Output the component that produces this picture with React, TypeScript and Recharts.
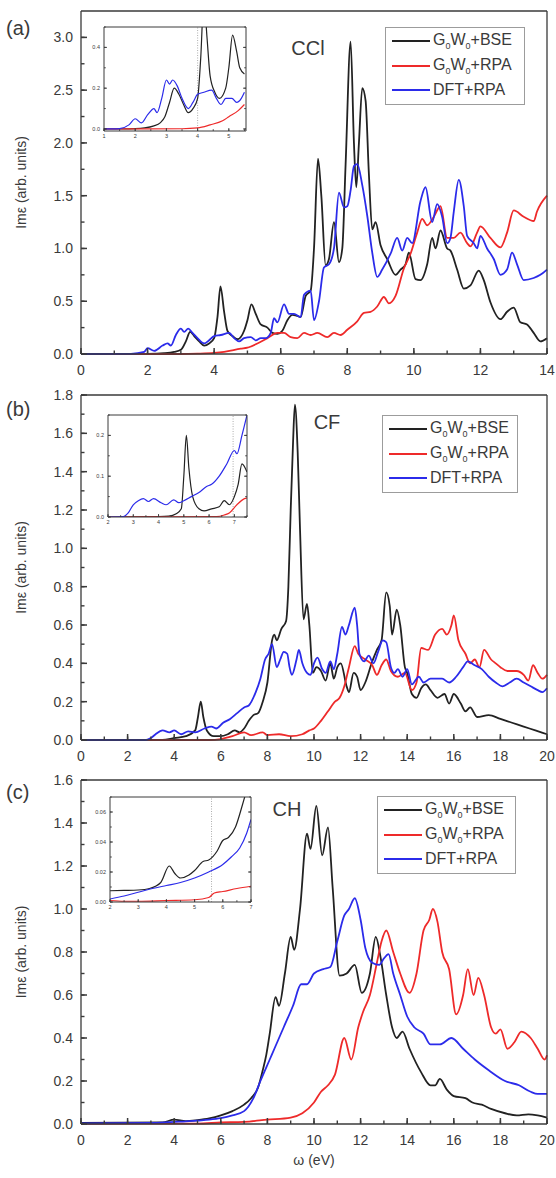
import React from 'react';
import { LineChart, Line, XAxis, YAxis, Legend, ReferenceLine } from 'recharts';

type Pt = [number, number];

const SERIES_NAMES = ['G0W0+BSE', 'G0W0+RPA', 'DFT+RPA'];
const SERIES_COLORS = ['#222222', '#ee2a2a', '#2b2bea'];

// ---------- Panel (a) CCl ----------
const cclBse: Pt[] = [[0,0],[1,0],[2,0.002],[2.5,0.008],[2.8,0.02],[3.0,0.04],[3.15,0.12],[3.28,0.21],[3.4,0.17],[3.55,0.12],[3.7,0.08],[3.85,0.1],[4.0,0.15],[4.1,0.35],[4.19,0.64],[4.3,0.4],[4.4,0.22],[4.55,0.17],[4.7,0.14],[4.9,0.22],[5.0,0.32],[5.12,0.47],[5.25,0.38],[5.4,0.28],[5.6,0.25],[5.75,0.2],[5.9,0.19],[6.05,0.22],[6.2,0.32],[6.35,0.37],[6.5,0.36],[6.6,0.35],[6.75,0.55],[6.9,0.6],[7.0,1.0],[7.12,1.85],[7.22,1.5],[7.35,0.84],[7.45,0.9],[7.6,1.25],[7.75,0.87],[7.85,1.0],[7.95,1.8],[8.1,2.96],[8.2,2.0],[8.27,1.58],[8.35,2.0],[8.45,2.52],[8.55,2.4],[8.65,1.7],[8.75,1.18],[8.85,1.25],[9.0,1.03],[9.2,0.9],[9.45,0.75],[9.6,0.8],[9.75,0.85],[9.85,0.96],[10.05,0.71],[10.2,0.7],[10.4,0.85],[10.55,1.1],[10.65,1.0],[10.8,1.17],[11.0,1.0],[11.1,0.98],[11.3,0.8],[11.5,0.62],[11.7,0.65],[11.95,0.79],[12.1,0.7],[12.3,0.49],[12.6,0.33],[12.8,0.4],[13.0,0.44],[13.2,0.3],[13.4,0.28],[13.6,0.2],[13.8,0.12],[14,0.15]];
const cclRpa: Pt[] = [[0,0],[3,0],[3.5,0.003],[4.0,0.01],[4.3,0.02],[4.8,0.05],[5.0,0.06],[5.3,0.1],[5.6,0.15],[5.9,0.2],[6.1,0.2],[6.3,0.16],[6.5,0.15],[6.7,0.2],[6.9,0.18],[7.1,0.2],[7.4,0.16],[7.6,0.2],[7.8,0.18],[8.0,0.23],[8.3,0.31],[8.5,0.39],[8.7,0.4],[8.9,0.45],[9.1,0.54],[9.25,0.48],[9.45,0.55],[9.7,0.81],[9.9,0.95],[10.1,1.15],[10.25,1.28],[10.4,1.22],[10.6,1.3],[10.8,1.4],[11.0,1.1],[11.2,1.1],[11.4,1.15],[11.6,1.05],[11.7,1.02],[11.9,1.15],[12.0,1.21],[12.3,1.1],[12.6,1.01],[12.8,1.15],[13.0,1.36],[13.3,1.3],[13.6,1.26],[13.7,1.35],[14,1.5]];
const cclDft: Pt[] = [[0,0],[1.5,0.002],[1.9,0.02],[2.0,0.055],[2.2,0.03],[2.45,0.08],[2.6,0.1],[2.7,0.08],[2.85,0.18],[3.0,0.24],[3.1,0.21],[3.22,0.24],[3.35,0.2],[3.5,0.15],[3.7,0.1],[3.85,0.13],[4.0,0.17],[4.2,0.18],[4.45,0.2],[4.6,0.15],[4.75,0.12],[4.9,0.15],[5.1,0.16],[5.25,0.13],[5.4,0.15],[5.55,0.15],[5.7,0.2],[5.8,0.34],[5.9,0.3],[6.1,0.47],[6.25,0.38],[6.4,0.38],[6.6,0.35],[6.7,0.56],[6.9,0.6],[7.0,0.32],[7.15,0.5],[7.3,0.82],[7.45,0.85],[7.6,1.0],[7.75,1.53],[7.9,1.39],[8.0,1.4],[8.1,1.55],[8.2,1.78],[8.3,1.8],[8.45,1.6],[8.6,1.31],[8.75,0.96],[8.9,0.73],[9.05,0.8],[9.3,0.95],[9.5,1.1],[9.65,0.98],[9.8,1.1],[9.95,1.05],[10.2,1.45],[10.35,1.58],[10.55,1.25],[10.7,1.42],[10.85,1.3],[11.0,1.05],[11.1,1.1],[11.2,1.35],[11.35,1.65],[11.5,1.4],[11.6,1.12],[11.8,1.05],[11.9,1.0],[12.0,1.12],[12.2,1.0],[12.4,0.9],[12.6,0.75],[12.8,0.8],[12.95,0.96],[13.1,0.85],[13.3,0.7],[13.6,0.72],[13.8,0.75],[14,0.8]];

const cclInsetBse: Pt[] = [[1,0],[2,0.002],[2.3,0.005],[2.6,0.015],[2.8,0.03],[2.95,0.06],[3.1,0.13],[3.25,0.2],[3.4,0.17],[3.55,0.12],[3.7,0.08],[3.85,0.1],[4.0,0.15],[4.1,0.35],[4.2,0.64],[4.3,0.45],[4.4,0.26],[4.55,0.18],[4.7,0.15],[4.9,0.2],[5.0,0.3],[5.12,0.46],[5.25,0.38],[5.35,0.3],[5.5,0.27]];
const cclInsetRpa: Pt[] = [[1,0],[3.5,0.001],[4.0,0.005],[4.4,0.02],[4.8,0.04],[5.0,0.06],[5.3,0.09],[5.5,0.12]];
const cclInsetDft: Pt[] = [[1,0],[1.5,0.002],[1.8,0.02],[2.0,0.05],[2.2,0.03],[2.4,0.07],[2.6,0.1],[2.7,0.08],[2.85,0.15],[3.0,0.24],[3.1,0.22],[3.2,0.24],[3.35,0.21],[3.5,0.15],[3.7,0.1],[3.85,0.13],[4.0,0.17],[4.2,0.18],[4.45,0.19],[4.6,0.15],[4.75,0.12],[4.9,0.15],[5.1,0.15],[5.25,0.13],[5.4,0.15],[5.5,0.18]];

// ---------- Panel (b) CF ----------
const cfBse: Pt[] = [[0,0],[3.5,0],[4.0,0.01],[4.5,0.02],[4.9,0.05],[5.02,0.12],[5.14,0.2],[5.25,0.12],[5.4,0.05],[5.7,0.02],[6.0,0.02],[6.3,0.03],[6.6,0.05],[6.8,0.04],[7.0,0.06],[7.2,0.1],[7.4,0.13],[7.6,0.14],[7.8,0.2],[8.0,0.3],[8.2,0.52],[8.3,0.55],[8.4,0.52],[8.6,0.58],[8.8,0.62],[8.9,0.8],[9.0,1.2],[9.1,1.55],[9.18,1.75],[9.3,1.5],[9.4,1.1],[9.55,0.63],[9.7,0.71],[9.8,0.6],[9.95,0.35],[10.1,0.38],[10.3,0.36],[10.5,0.31],[10.7,0.4],[10.85,0.32],[11.0,0.38],[11.15,0.4],[11.4,0.28],[11.5,0.25],[11.7,0.35],[11.85,0.33],[12.0,0.26],[12.2,0.3],[12.5,0.41],[12.7,0.47],[12.9,0.52],[13.1,0.77],[13.25,0.7],[13.35,0.55],[13.55,0.68],[13.7,0.6],[13.9,0.38],[14.0,0.35],[14.2,0.24],[14.4,0.22],[14.6,0.27],[14.8,0.29],[15.0,0.26],[15.3,0.22],[15.6,0.24],[15.8,0.19],[16.0,0.24],[16.3,0.19],[16.5,0.15],[16.7,0.17],[17.0,0.12],[17.5,0.13],[18.0,0.11],[18.5,0.09],[19.0,0.07],[19.5,0.05],[20,0.03]];
const cfRpa: Pt[] = [[0,0],[5.5,0],[6.0,0.005],[6.5,0.02],[7.0,0.04],[7.3,0.025],[7.8,0.04],[8.0,0.025],[8.5,0.03],[9.0,0.02],[9.5,0.03],[9.8,0.05],[10.0,0.06],[10.3,0.1],[10.6,0.15],[10.9,0.2],[11.1,0.22],[11.3,0.28],[11.5,0.38],[11.75,0.49],[11.9,0.45],[12.2,0.42],[12.5,0.39],[12.7,0.34],[12.9,0.39],[13.1,0.42],[13.3,0.36],[13.6,0.33],[13.9,0.35],[14.2,0.26],[14.4,0.3],[14.6,0.48],[14.9,0.47],[15.2,0.55],[15.5,0.58],[15.7,0.55],[15.9,0.6],[16.0,0.65],[16.2,0.52],[16.5,0.45],[16.7,0.4],[16.9,0.42],[17.1,0.38],[17.3,0.47],[17.6,0.42],[17.8,0.4],[18.0,0.38],[18.3,0.36],[18.7,0.36],[19.0,0.34],[19.2,0.31],[19.4,0.39],[19.6,0.35],[19.8,0.32],[20,0.34]];
const cfDft: Pt[] = [[0,0],[2.8,0],[3.0,0.01],[3.2,0.03],[3.5,0.05],[3.8,0.04],[4.0,0.05],[4.3,0.03],[4.6,0.045],[4.9,0.04],[5.3,0.06],[5.6,0.07],[5.8,0.06],[6.1,0.09],[6.4,0.11],[6.7,0.14],[7.0,0.17],[7.2,0.18],[7.5,0.25],[7.7,0.32],[7.9,0.42],[8.05,0.45],[8.2,0.5],[8.4,0.38],[8.55,0.42],[8.7,0.46],[8.85,0.45],[8.95,0.38],[9.05,0.34],[9.25,0.42],[9.35,0.47],[9.5,0.4],[9.7,0.35],[9.85,0.34],[10.0,0.4],[10.15,0.43],[10.35,0.37],[10.5,0.35],[10.7,0.41],[10.85,0.37],[11.0,0.45],[11.2,0.59],[11.35,0.55],[11.5,0.6],[11.75,0.69],[11.85,0.6],[11.95,0.45],[12.15,0.41],[12.35,0.44],[12.55,0.4],[12.75,0.46],[12.95,0.52],[13.1,0.51],[13.3,0.38],[13.45,0.35],[13.6,0.37],[13.8,0.33],[14.0,0.37],[14.2,0.29],[14.5,0.33],[14.7,0.3],[15.0,0.32],[15.5,0.32],[15.8,0.3],[16.1,0.33],[16.4,0.38],[16.6,0.41],[16.9,0.39],[17.2,0.37],[17.5,0.33],[17.8,0.3],[18.1,0.28],[18.4,0.3],[18.7,0.32],[19.0,0.3],[19.3,0.28],[19.6,0.26],[19.8,0.25],[20,0.27]];

const cfInsetBse: Pt[] = [[2,0],[4.0,0.001],[4.4,0.002],[4.7,0.008],[4.9,0.02],[5.0,0.1],[5.1,0.2],[5.2,0.12],[5.35,0.05],[5.6,0.02],[5.8,0.015],[6.1,0.02],[6.4,0.025],[6.6,0.04],[6.8,0.03],[7.0,0.05],[7.15,0.08],[7.3,0.13],[7.5,0.11]];
const cfInsetRpa: Pt[] = [[2,0],[6.3,0.001],[6.6,0.005],[6.8,0.01],[7.1,0.03],[7.4,0.045],[7.5,0.047]];
const cfInsetDft: Pt[] = [[2,0],[2.6,0.001],[2.8,0.01],[3.0,0.03],[3.2,0.04],[3.4,0.045],[3.6,0.038],[3.8,0.045],[4.1,0.035],[4.3,0.03],[4.6,0.042],[4.8,0.035],[5.0,0.04],[5.3,0.05],[5.6,0.06],[5.9,0.075],[6.1,0.08],[6.4,0.1],[6.7,0.13],[7.0,0.163],[7.1,0.155],[7.3,0.2],[7.5,0.25]];

// ---------- Panel (c) CH ----------
const chBse: Pt[] = [[0,0.005],[3.5,0.008],[4.0,0.02],[4.5,0.013],[5.0,0.018],[5.5,0.026],[6.0,0.04],[6.5,0.06],[7.0,0.09],[7.3,0.12],[7.6,0.17],[7.8,0.25],[7.95,0.32],[8.1,0.42],[8.35,0.59],[8.5,0.55],[8.75,0.7],[9.0,0.87],[9.15,0.81],[9.4,1.0],[9.7,1.35],[9.85,1.28],[10.1,1.48],[10.35,1.25],[10.6,1.38],[10.8,1.1],[11.1,0.69],[11.4,0.7],[11.75,0.74],[12.05,0.61],[12.4,0.7],[12.65,0.87],[12.85,0.78],[13.1,0.6],[13.35,0.45],[13.55,0.4],[13.8,0.43],[14.1,0.35],[14.6,0.24],[15.0,0.18],[15.2,0.18],[15.4,0.21],[15.7,0.16],[16.0,0.13],[16.5,0.12],[16.8,0.1],[17.2,0.09],[17.6,0.07],[18.2,0.05],[18.7,0.04],[19.2,0.045],[19.6,0.04],[20,0.03]];
const chRpa: Pt[] = [[0,0.001],[5,0.002],[6,0.007],[7,0.01],[8,0.02],[9,0.03],[9.5,0.05],[10.0,0.1],[10.3,0.15],[10.6,0.18],[10.9,0.23],[11.3,0.4],[11.6,0.3],[11.9,0.45],[12.1,0.52],[12.4,0.6],[12.7,0.75],[12.9,0.85],[13.1,0.9],[13.4,0.8],[13.7,0.7],[14.1,0.61],[14.4,0.7],[14.7,0.9],[14.95,0.95],[15.1,1.0],[15.3,0.94],[15.5,0.8],[15.8,0.72],[16.1,0.51],[16.4,0.6],[16.6,0.72],[16.85,0.6],[17.05,0.68],[17.3,0.6],[17.6,0.45],[17.8,0.42],[18.0,0.44],[18.3,0.35],[18.6,0.38],[18.9,0.43],[19.3,0.4],[19.6,0.35],[19.9,0.3],[20,0.32]];
const chDft: Pt[] = [[0,0.003],[3,0.005],[4,0.01],[4.5,0.012],[5.0,0.016],[5.5,0.02],[6.0,0.027],[6.5,0.04],[7.0,0.06],[7.4,0.12],[7.7,0.2],[8.1,0.3],[8.3,0.35],[8.7,0.45],[9.1,0.55],[9.45,0.65],[9.7,0.65],[10.0,0.7],[10.4,0.72],[10.7,0.73],[11.0,0.85],[11.3,0.97],[11.5,1.0],[11.75,1.05],[12.0,0.95],[12.2,0.82],[12.5,0.75],[12.8,0.74],[13.0,0.77],[13.2,0.79],[13.4,0.7],[13.7,0.6],[14.0,0.5],[14.3,0.45],[14.7,0.42],[15.0,0.37],[15.4,0.37],[15.9,0.4],[16.4,0.35],[16.9,0.3],[17.5,0.25],[18.2,0.2],[18.8,0.18],[19.3,0.15],[19.6,0.14],[20,0.14]];

const chInsetBse: Pt[] = [[2,0.0075],[2.5,0.0077],[3.0,0.008],[3.4,0.009],[3.8,0.013],[4.1,0.024],[4.3,0.019],[4.5,0.016],[4.8,0.018],[5.0,0.021],[5.3,0.027],[5.5,0.028],[5.8,0.034],[6.0,0.041],[6.2,0.043],[6.45,0.05],[6.7,0.065],[6.85,0.075]];
const chInsetRpa: Pt[] = [[2,0.001],[2.5,0.0005],[3.0,0.0005],[4.0,0.001],[5.0,0.0015],[5.5,0.003],[5.7,0.006],[6.0,0.007],[6.5,0.009],[7.0,0.0105]];
const chInsetDft: Pt[] = [[2,0.002],[2.5,0.004],[3.0,0.0065],[3.5,0.009],[4.0,0.011],[4.5,0.013],[5.0,0.016],[5.5,0.02],[6.0,0.025],[6.3,0.03],[6.6,0.036],[6.85,0.046],[7.0,0.055]];

// ---------- Ticks ----------
const xTicks14 = [0,1,2,3,4,5,6,7,8,9,10,11,12,13,14];
const xLabels14 = [0,2,4,6,8,10,12,14];
const xTicks20 = [0,1,2,3,4,5,6,7,8,9,10,11,12,13,14,15,16,17,18,19,20];
const xLabels20 = [0,2,4,6,8,10,12,14,16,18,20];
const yTicksA = [0,0.25,0.5,0.75,1.0,1.25,1.5,1.75,2.0,2.25,2.5,2.75,3.0];
const yLabelsA = [0,0.5,1.0,1.5,2.0,2.5,3.0];
const yTicksB = [0,0.1,0.2,0.3,0.4,0.5,0.6,0.7,0.8,0.9,1.0,1.1,1.2,1.3,1.4,1.5,1.6,1.7,1.8];
const yLabelsB = [0,0.2,0.4,0.6,0.8,1.0,1.2,1.4,1.6,1.8];
const yTicksC = [0,0.1,0.2,0.3,0.4,0.5,0.6,0.7,0.8,0.9,1.0,1.1,1.2,1.3,1.4,1.5,1.6];
const yLabelsC = [0,0.2,0.4,0.6,0.8,1.0,1.2,1.4,1.6];

const insetXTicksA = [1,1.5,2,2.5,3,3.5,4,4.5,5,5.5];
const insetXLabelsA = [1,2,3,4,5];
const insetYTicksA = [0,0.1,0.2,0.3,0.4,0.5];
const insetYLabelsA = [0,0.2,0.4];
const insetXTicksB = [2,2.5,3,3.5,4,4.5,5,5.5,6,6.5,7,7.5];
const insetXLabelsB = [2,3,4,5,6,7];
const insetYTicksB = [0,0.05,0.1,0.15,0.2,0.25];
const insetYLabelsB = [0,0.1,0.2];
const insetXTicksC = [2,2.5,3,3.5,4,4.5,5,5.5,6,6.5,7];
const insetXLabelsC = [2,3,4,5,6,7];
const insetYTicksC = [0,0.01,0.02,0.03,0.04,0.05,0.06,0.07];
const insetYLabelsC = [0,0.02,0.04,0.06];

const FONT = '"Liberation Sans", Arial, Helvetica, sans-serif';
const AXIS_COLOR = '#3a3a3a';
const TEXT_COLOR = '#3a3a3a';

const rows = (p: Pt[]) => p.map(([x, y]) => ({ x, y }));

type Side = 'bottom' | 'top' | 'left' | 'right';

// Custom tick: label for major values + a longer inward line for majors.
// `gap` = distance from the axis line to the label anchor.
function makeTick(side: Side, labels: number[], fmt: (v: number) => string, opts: { fontSize: number; major: number; gap: number; show: boolean; sw: number }) {
  return (props: any) => {
    const { x, y, payload } = props;
    const v = payload.value as number;
    const isMajor = labels.some((l) => Math.abs(l - v) < 1e-9);
    let line: React.ReactNode = null;
    let label: React.ReactNode = null;
    if (side === 'bottom') {
      const by = y - opts.gap;
      if (isMajor) line = <path d={`M${x},${by}V${by - opts.major}`} stroke={AXIS_COLOR} strokeWidth={opts.sw} fill="none" />;
      if (opts.show && isMajor) label = <text x={x} y={y} dy="0.71em" textAnchor="middle" fontSize={opts.fontSize} fill={TEXT_COLOR} fontFamily={FONT}>{fmt(v)}</text>;
    } else if (side === 'top') {
      const by = y + opts.gap;
      if (isMajor) line = <path d={`M${x},${by}V${by + opts.major}`} stroke={AXIS_COLOR} strokeWidth={opts.sw} fill="none" />;
    } else if (side === 'left') {
      const bx = x + opts.gap;
      if (isMajor) line = <path d={`M${bx},${y}H${bx + opts.major}`} stroke={AXIS_COLOR} strokeWidth={opts.sw} fill="none" />;
      if (opts.show && isMajor) label = <text x={x} y={y} dy="0.35em" textAnchor="end" fontSize={opts.fontSize} fill={TEXT_COLOR} fontFamily={FONT}>{fmt(v)}</text>;
    } else {
      const bx = x - opts.gap;
      if (isMajor) line = <path d={`M${bx},${y}H${bx - opts.major}`} stroke={AXIS_COLOR} strokeWidth={opts.sw} fill="none" />;
    }
    return <g>{line}{label}</g>;
  };
}

const subStyle: React.CSSProperties = { fontSize: 9, position: 'relative', top: 4, verticalAlign: 'baseline' };
const formatName = (s: string) =>
  s.startsWith('G0W0') ? (<>G<span style={subStyle}>0</span>W<span style={subStyle}>0</span>{s.slice(4)}</>) : s;

const legendContent = (width: number) => (props: any) => {
  const src: any[] = props.payload && props.payload.length ? props.payload : SERIES_NAMES.map((n, i) => ({ value: n, color: SERIES_COLORS[i] }));
  const payload = [...src].sort((a, b) => SERIES_NAMES.indexOf(String(a.value)) - SERIES_NAMES.indexOf(String(b.value)));
  return (
    <div style={{ boxSizing: 'border-box', width, border: '1px solid #9c9c9c', background: '#fff', padding: '1px 0', fontFamily: FONT }}>
      {payload.map((e: any, i: number) => (
        <div key={i} style={{ height: 24.5, display: 'flex', alignItems: 'center' }}>
          <svg width={47} height={4} style={{ flex: 'none' }}>
            <line x1={6} x2={44} y1={2} y2={2} stroke={e.color} strokeWidth={1.8} />
          </svg>
          <span style={{ fontSize: 16, color: TEXT_COLOR, whiteSpace: 'nowrap', lineHeight: '16px' }}>{formatName(String(e.value))}</span>
        </div>
      ))}
    </div>
  );
};

interface InsetProps {
  rect: { l: number; t: number; r: number; b: number };
  xDomain: [number, number];
  xTicks: number[];
  xLabels: number[];
  yDomain: [number, number];
  yTicks: number[];
  yLabels: number[];
  yDigits: number;
  series: Pt[][];
  marker: number;
}

function Inset(p: InsetProps) {
  const padL = 22, padT = 5, padR = 8, padB = 16;
  const w = p.rect.r - p.rect.l + padL + padR;
  const h = p.rect.b - p.rect.t + padT + padB;
  const o = { fontSize: 5.5, major: 3, sw: 0.9, show: true };
  const ts = -1.8;
  const tl = { stroke: AXIS_COLOR, strokeWidth: 0.9 };
  const al = { stroke: AXIS_COLOR, strokeWidth: 1 };
  return (
    <div style={{ position: 'absolute', left: p.rect.l - padL, top: p.rect.t - padT, width: w, height: h }}>
      <LineChart width={w} height={h} margin={{ top: padT - 1, right: padR - 1, bottom: padB - 12, left: 0 }}>
        <XAxis xAxisId="x" type="number" dataKey="x" domain={p.xDomain} ticks={p.xTicks} interval={0} height={12} tickSize={ts} tickMargin={3 - ts} tickLine={tl} axisLine={al} stroke={AXIS_COLOR} tick={makeTick('bottom', p.xLabels, (v) => String(v), { ...o, gap: 3 })} allowDataOverflow />
        <XAxis xAxisId="xt" orientation="top" type="number" domain={p.xDomain} ticks={p.xTicks} interval={0} height={1} tickSize={ts} tickMargin={-ts} tickLine={tl} axisLine={al} stroke={AXIS_COLOR} tick={makeTick('top', p.xLabels, String, { ...o, gap: 0, show: false })} allowDataOverflow />
        <YAxis yAxisId="y" type="number" domain={p.yDomain} ticks={p.yTicks} interval={0} width={22} tickSize={ts} tickMargin={4 - ts} tickLine={tl} axisLine={al} stroke={AXIS_COLOR} tick={makeTick('left', p.yLabels, (v) => v.toFixed(p.yDigits), { ...o, gap: 4 })} allowDataOverflow />
        <YAxis yAxisId="yr" orientation="right" type="number" domain={p.yDomain} ticks={p.yTicks} interval={0} width={1} tickSize={ts} tickMargin={-ts} tickLine={tl} axisLine={al} stroke={AXIS_COLOR} tick={makeTick('right', p.yLabels, String, { ...o, gap: 0, show: false })} allowDataOverflow />
        <ReferenceLine xAxisId="x" yAxisId="y" x={p.marker} stroke="#8a8a8a" strokeWidth={0.7} strokeDasharray="1 1.5" />
        {p.series.map((s, i) => (
          <Line key={i} xAxisId="x" yAxisId="y" data={rows(s)} dataKey="y" type="monotone" stroke={SERIES_COLORS[i]} strokeWidth={1.2} dot={false} activeDot={false} isAnimationActive={false} />
        ))}
      </LineChart>
    </div>
  );
}

interface PanelProps {
  top: number;
  height: number;
  plotTop: number;
  plotBottom: number;
  xDomain: [number, number];
  xTicks: number[];
  xLabels: number[];
  yDomain: [number, number];
  yTicks: number[];
  yLabels: number[];
  series: Pt[][];
  tag: string;
  tagY: number;
  title: string;
  titleX: number;
  titleY: number;
  legend: { left: number; top: number; width: number };
  inset: InsetProps;
  xTitle?: string;
}

function Panel(p: PanelProps) {
  const W = 556;
  const plotL = 81;
  const plotR = 547;
  const margin = { top: p.plotTop - 1, right: W - plotR - 1, bottom: p.height - p.plotBottom - 30, left: plotL - 50 };
  const o = { fontSize: 14, major: 6, sw: 1.5, show: true };
  const ts = -3.5;
  const tl = { stroke: AXIS_COLOR, strokeWidth: 1.4 };
  const al = { stroke: AXIS_COLOR, strokeWidth: 1.3 };
  const midY = (p.plotTop + p.plotBottom) / 2;
  return (
    <div style={{ position: 'absolute', left: 0, top: p.top, width: W, height: p.height }}>
      <LineChart width={W} height={p.height} margin={margin}>
        <XAxis xAxisId="x" type="number" dataKey="x" domain={p.xDomain} ticks={p.xTicks} interval={0} height={30} tickSize={ts} tickMargin={11 - ts} tickLine={tl} axisLine={al} stroke={AXIS_COLOR} tick={makeTick('bottom', p.xLabels, (v) => String(v), { ...o, gap: 11 })} />
        <XAxis xAxisId="xt" orientation="top" type="number" domain={p.xDomain} ticks={p.xTicks} interval={0} height={1} tickSize={ts} tickMargin={-ts} tickLine={tl} axisLine={al} stroke={AXIS_COLOR} tick={makeTick('top', p.xLabels, String, { ...o, gap: 0, show: false })} />
        <YAxis yAxisId="y" type="number" domain={p.yDomain} ticks={p.yTicks} interval={0} width={50} tickSize={ts} tickMargin={8 - ts} tickLine={tl} axisLine={al} stroke={AXIS_COLOR} tick={makeTick('left', p.yLabels, (v) => v.toFixed(1), { ...o, gap: 8 })} />
        <YAxis yAxisId="yr" orientation="right" type="number" domain={p.yDomain} ticks={p.yTicks} interval={0} width={1} tickSize={ts} tickMargin={-ts} tickLine={tl} axisLine={al} stroke={AXIS_COLOR} tick={makeTick('right', p.yLabels, String, { ...o, gap: 0, show: false })} />
        {p.series.map((s, i) => (
          <Line key={i} xAxisId="x" yAxisId="y" data={rows(s)} dataKey="y" name={SERIES_NAMES[i]} type="monotone" stroke={SERIES_COLORS[i]} strokeWidth={1.8} dot={false} activeDot={false} isAnimationActive={false} />
        ))}
        <Legend layout="vertical" align="center" verticalAlign="middle" width={p.legend.width} wrapperStyle={{ left: p.legend.left, top: p.legend.top, width: p.legend.width }} content={legendContent(p.legend.width)} />
        <text x={6} y={p.tagY} fontSize={20} fill={TEXT_COLOR} fontFamily={FONT}>{p.tag}</text>
        <text x={p.titleX} y={p.titleY} fontSize={20} fill={TEXT_COLOR} fontFamily={FONT} textAnchor="middle">{p.title}</text>
        <text x={21} y={midY} fontSize={14} fill={TEXT_COLOR} fontFamily={FONT} textAnchor="middle" dominantBaseline="central" transform={`rotate(-90, 21, ${midY})`}>Imε (arb. units)</text>
        {p.xTitle ? (
          <text x={(plotL + plotR) / 2} y={p.plotBottom + 36} fontSize={14} fill={TEXT_COLOR} fontFamily={FONT} textAnchor="middle" dominantBaseline="central">{p.xTitle}</text>
        ) : null}
      </LineChart>
      <Inset {...p.inset} />
    </div>
  );
}

export default function App() {
  return (
    <div style={{ position: 'absolute', left: 0, top: 0, width: 556, height: 1178, background: '#fff', overflow: 'hidden' }}>
      <Panel
        top={0} height={386} plotTop={11} plotBottom={354}
        xDomain={[0, 14]} xTicks={xTicks14} xLabels={xLabels14}
        yDomain={[0, 3.25]} yTicks={yTicksA} yLabels={yLabelsA}
        series={[cclBse, cclRpa, cclDft]}
        tag="(a)" tagY={35} title="CCl" titleX={308} titleY={55}
        legend={{ left: 385, top: 27, width: 140 }}
        inset={{ rect: { l: 104, t: 27, r: 246, b: 131 }, xDomain: [1, 5.55], xTicks: insetXTicksA, xLabels: insetXLabelsA, yDomain: [-0.01, 0.5], yTicks: insetYTicksA, yLabels: insetYLabelsA, yDigits: 1, series: [cclInsetBse, cclInsetRpa, cclInsetDft], marker: 4 }}
      />
      <Panel
        top={386} height={386} plotTop={9} plotBottom={354}
        xDomain={[0, 20]} xTicks={xTicks20} xLabels={xLabels20}
        yDomain={[0, 1.8]} yTicks={yTicksB} yLabels={yLabelsB}
        series={[cfBse, cfRpa, cfDft]}
        tag="(b)" tagY={30} title="CF" titleX={327} titleY={43}
        legend={{ left: 382, top: 29, width: 136 }}
        inset={{ rect: { l: 108, t: 29, r: 247, b: 131 }, xDomain: [2, 7.5], xTicks: insetXTicksB, xLabels: insetXLabelsB, yDomain: [0, 0.25], yTicks: insetYTicksB, yLabels: insetYLabelsB, yDigits: 1, series: [cfInsetBse, cfInsetRpa, cfInsetDft], marker: 6.95 }}
      />
      <Panel
        top={772} height={406} plotTop={8} plotBottom={352}
        xDomain={[0, 20]} xTicks={xTicks20} xLabels={xLabels20}
        yDomain={[0, 1.6]} yTicks={yTicksC} yLabels={yLabelsC}
        series={[chBse, chRpa, chDft]}
        tag="(c)" tagY={27} title="CH" titleX={287} titleY={44}
        legend={{ left: 377, top: 24, width: 139 }}
        inset={{ rect: { l: 110, t: 25, r: 251, b: 130 }, xDomain: [2, 7], xTicks: insetXTicksC, xLabels: insetXLabelsC, yDomain: [0, 0.07], yTicks: insetYTicksC, yLabels: insetYLabelsC, yDigits: 2, series: [chInsetBse, chInsetRpa, chInsetDft], marker: 5.6 }}
        xTitle="ω (eV)"
      />
    </div>
  );
}
